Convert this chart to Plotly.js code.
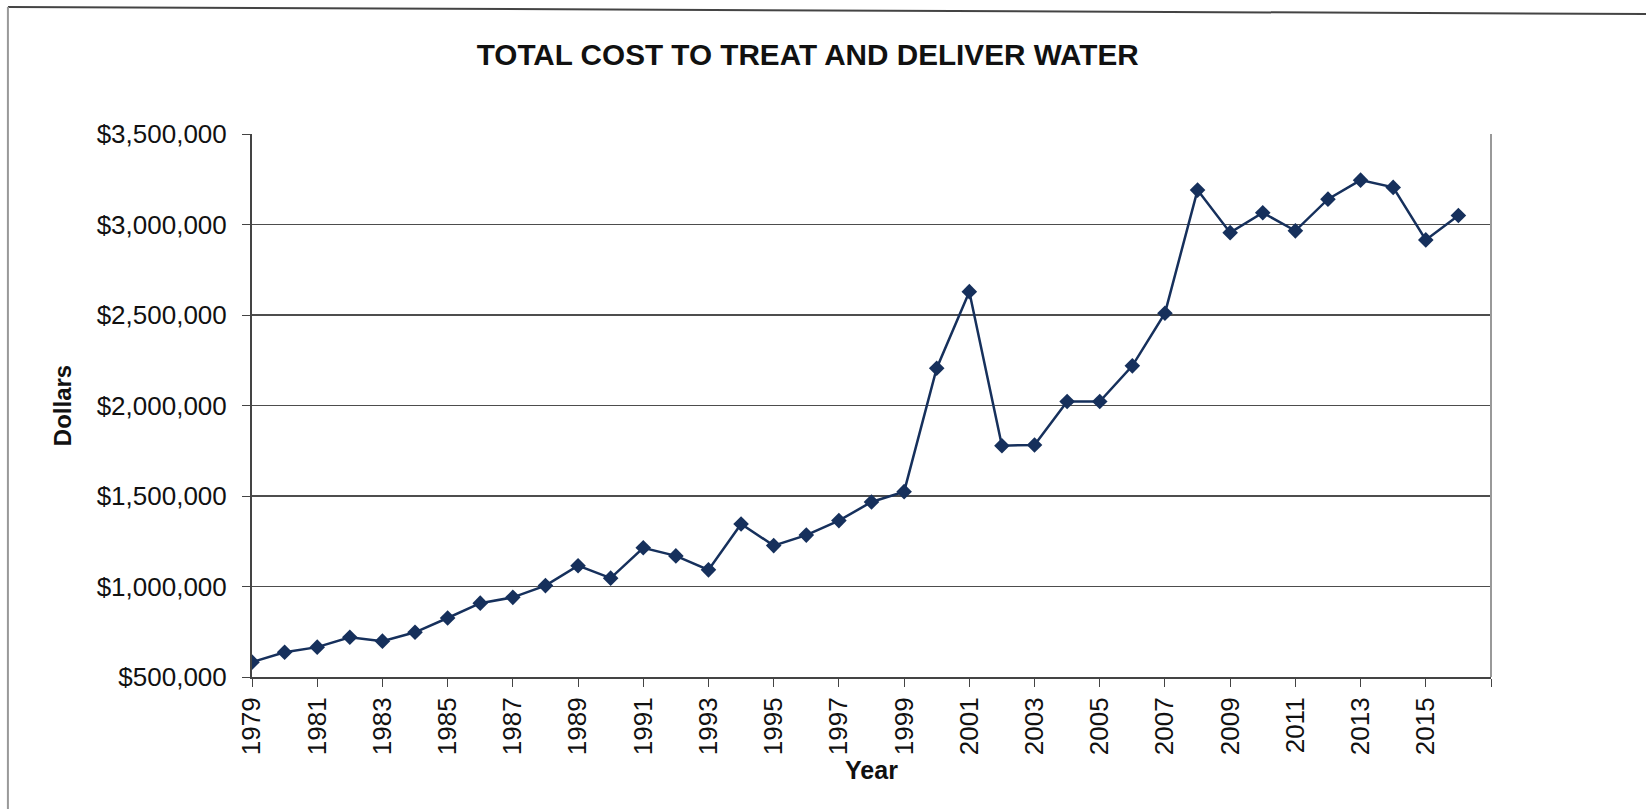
<!DOCTYPE html>
<html>
<head>
<meta charset="utf-8">
<script src="https://cdn.plot.ly/plotly-3.0.1.min.js"></script>
<style>
  html, body { margin: 0; padding: 0; background: #fff; }
  #chart { width: 1646px; height: 809px; }
</style>
</head>
<body>
<div id="chart"></div>
<script>
// Total cost per year
var years = [1979, 1980, 1981, 1982, 1983, 1984, 1985, 1986, 1987, 1988,
             1989, 1990, 1991, 1992, 1993, 1994, 1995, 1996, 1997, 1998,
             1999, 2000, 2001, 2002, 2003, 2004, 2005, 2006, 2007, 2008,
             2009, 2010, 2011, 2012, 2013, 2014, 2015, 2016];
var totalCost = [582000, 637000, 665000, 720000, 698000, 747000, 826000, 908000, 940000, 1005000,
                 1115000, 1046000, 1214000, 1169000, 1092000, 1345000, 1226000, 1284000, 1364000, 1467000,
                 1524000, 2206000, 2629000, 1778000, 1782000, 2022000, 2022000, 2219000, 2510000, 3190000,
                 2955000, 3065000, 2965000, 3140000, 3245000, 3205000, 2915000, 3050000];

var yearTicks = [1979, 1981, 1983, 1985, 1987, 1989, 1991, 1993, 1995, 1997,
                 1999, 2001, 2003, 2005, 2007, 2009, 2011, 2013, 2015, 2017];
var yearTickText = ['1979', '1981', '1983', '1985', '1987', '1989', '1991', '1993', '1995', '1997',
                    '1999', '2001', '2003', '2005', '2007', '2009', '2011', '2013', '2015', ''];

var navy = '#16305c';

var trace = {
    x: years,
    y: totalCost,
    type: 'scatter',
    mode: 'lines+markers',
    name: 'Total cost',
    line: { color: navy, width: 2.5 },
    marker: { symbol: 'diamond', size: 12, color: navy }
};

var layout = {
    width: 1646,
    height: 809,
    margin: { l: 252, r: 155, t: 134, b: 132 },
    paper_bgcolor: '#fff',
    plot_bgcolor: '#fff',
    showlegend: false,
    font: { family: "'Liberation Sans', Arial, sans-serif", color: '#111' },
    title: {
        text: '<b>TOTAL COST TO TREAT AND DELIVER WATER</b>',
        font: { size: 29.7, color: '#111' },
        x: 0.4907, xanchor: 'center',
        y: 0.932, yanchor: 'middle'
    },
    xaxis: {
        range: [1979, 2017],
        tickmode: 'array',
        tickvals: yearTicks,
        ticktext: yearTickText,
        tickangle: -90,
        ticks: 'outside',
        ticklen: 8,
        tickcolor: '#444',
        tickfont: { size: 26 },
        ticklabelstandoff: 0,
        showgrid: false,
        zeroline: false,
        showline: true,
        linecolor: '#444',
        linewidth: 2,
        title: { text: '<b>Year</b>', font: { size: 25 }, standoff: 7 }
    },
    yaxis: {
        range: [500000, 3500000],
        dtick: 500000,
        tickformat: '$,.0f',
        ticks: 'outside',
        ticklen: 8,
        tickcolor: '#444',
        tickfont: { size: 26 },
        ticklabelstandoff: 10,
        showgrid: true,
        gridcolor: '#4d4d4d',
        gridwidth: 1.5,
        zeroline: false,
        showline: true,
        linecolor: '#444',
        linewidth: 2,
        title: { text: '<b>Dollars</b>', font: { size: 24 }, standoff: 18 }
    },
    shapes: [
        // right edge of plot area
        { type: 'line', xref: 'paper', yref: 'paper', x0: 1, x1: 1, y0: 0, y1: 1,
          line: { color: '#999', width: 2 } },
        // outer chart frame (top and left edges of the scanned page)
        { type: 'line', xref: 'paper', yref: 'paper', x0: -0.197, x1: 1.126, y0: 1.234, y1: 1.221,
          line: { color: '#444', width: 2 } },
        { type: 'line', xref: 'paper', yref: 'paper', x0: -0.197, x1: -0.197, y0: 1.234, y1: -0.25,
          line: { color: '#999', width: 2 } }
    ]
};

Plotly.newPlot('chart', [trace], layout, { displayModeBar: false, staticPlot: true });
</script>
</body>
</html>
